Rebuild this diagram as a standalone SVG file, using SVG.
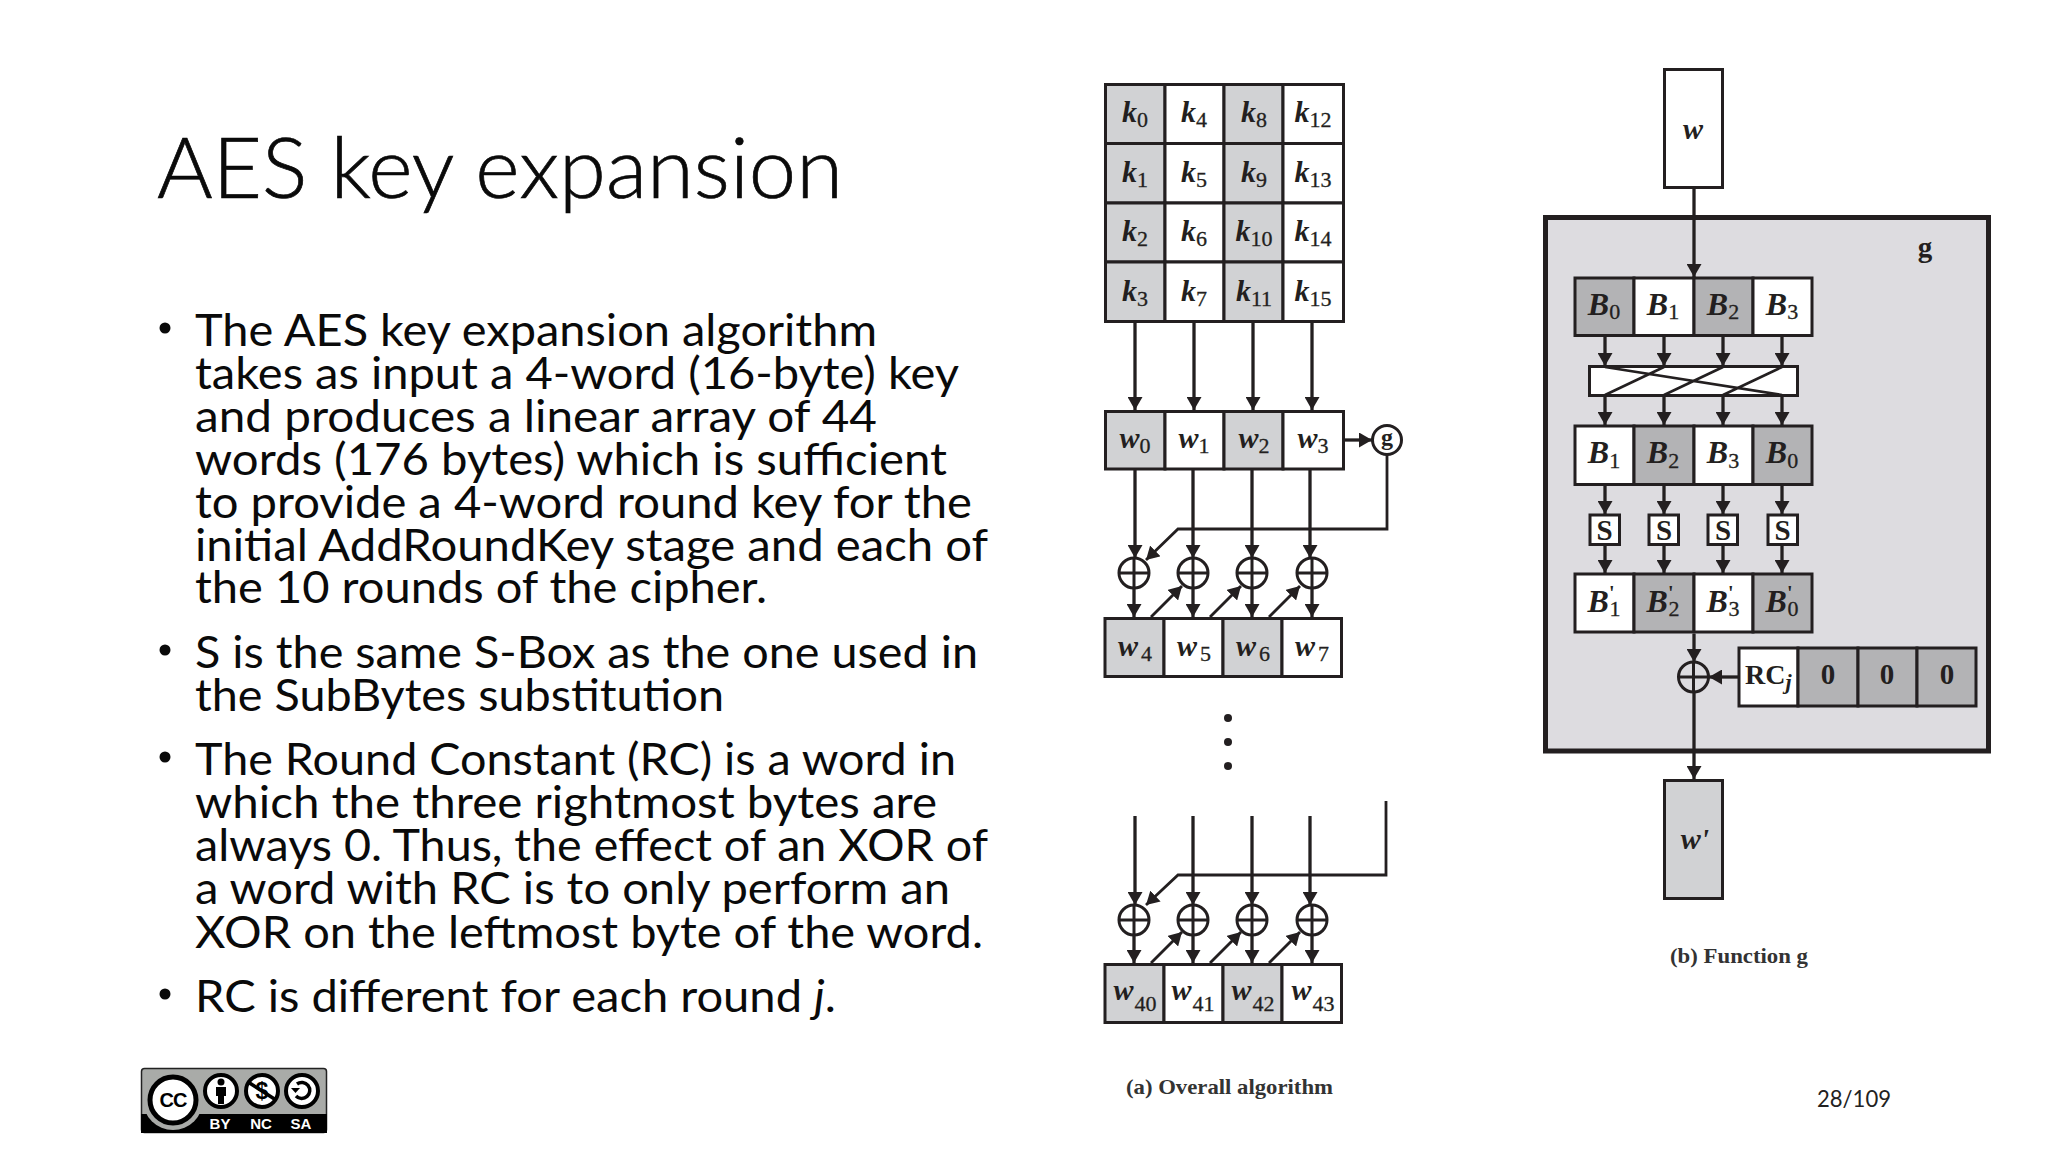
<svg xmlns="http://www.w3.org/2000/svg" width="2048" height="1152" viewBox="0 0 2048 1152">
<style>
.title{font-family:Lato,"Open Sans",sans-serif;font-weight:300;font-size:84px;fill:#0a0a0a;stroke:#0a0a0a;stroke-width:.7}
.body{font-family:Lato,"Open Sans",sans-serif;font-size:44px;fill:#0a0a0a}
.num{font-family:Lato,"Open Sans",sans-serif;font-size:24px;fill:#222}
.box{stroke:#231f20;stroke-width:3;fill:#fff}
.g1{fill:#d1d2d4}
.g2{fill:#b3b3b5}
.lab{font-family:"Liberation Serif",serif;font-weight:bold;fill:#231f20;text-anchor:middle}
.v{font-style:italic;font-size:30px}
.vb{font-style:italic;font-size:32px}
.s{font-style:normal;font-size:22px;font-weight:normal;stroke:#231f20;stroke-width:.3}
.pr{font-style:normal;font-size:20px}
.cap{font-family:"Liberation Serif",serif;font-weight:bold;font-size:22px;fill:#333}
.xor{fill:none;stroke:#231f20;stroke-width:3}
.con{fill:none;stroke:#231f20;stroke-width:3.2}
.thin{fill:none;stroke:#231f20;stroke-width:2.6}
.arr{fill:none;stroke:#231f20;stroke-width:3.3;marker-end:url(#ah)}
.arrt{fill:none;stroke:#231f20;stroke-width:2.8;marker-end:url(#ah)}
.ccw{font-family:"Liberation Sans",sans-serif;font-weight:bold;fill:#fff;font-size:15px;text-anchor:middle}
</style>
<defs>
<marker id="ah" markerUnits="userSpaceOnUse" markerWidth="13" markerHeight="15" refX="13" refY="7.5" orient="auto"><path d="M0,0L13,7.500L0,15z" fill="#231f20"/></marker>
</defs>
<rect width="2048" height="1152" fill="#fff"/>

<text class="title" x="157" y="198" textLength="686" lengthAdjust="spacingAndGlyphs">AES key expansion</text>

<g id="bullets">
<circle cx="165" cy="328" r="5.5" fill="#0a0a0a"/>
<circle cx="165" cy="650" r="5.5" fill="#0a0a0a"/>
<circle cx="165" cy="757" r="5.5" fill="#0a0a0a"/>
<circle cx="165" cy="994" r="5.5" fill="#0a0a0a"/>
</g>
<g id="body">
<text class="body" x="195" y="346" textLength="682" lengthAdjust="spacingAndGlyphs">The AES key expansion algorithm</text>
<text class="body" x="195" y="389" textLength="764" lengthAdjust="spacingAndGlyphs">takes as input a 4-word (16-byte) key</text>
<text class="body" x="195" y="432" textLength="682" lengthAdjust="spacingAndGlyphs">and produces a linear array of 44</text>
<text class="body" x="195" y="475" textLength="752" lengthAdjust="spacingAndGlyphs">words (176 bytes) which is sufficient</text>
<text class="body" x="195" y="518" textLength="777" lengthAdjust="spacingAndGlyphs">to provide a 4-word round key for the</text>
<text class="body" x="195" y="561" textLength="793" lengthAdjust="spacingAndGlyphs">initial AddRoundKey stage and each of</text>
<text class="body" x="195" y="603" textLength="572" lengthAdjust="spacingAndGlyphs">the 10 rounds of the cipher.</text>
<text class="body" x="195" y="668" textLength="783" lengthAdjust="spacingAndGlyphs">S is the same S-Box as the one used in</text>
<text class="body" x="195" y="711" textLength="529" lengthAdjust="spacingAndGlyphs">the SubBytes substitution</text>
<text class="body" x="195" y="775" textLength="761" lengthAdjust="spacingAndGlyphs">The Round Constant (RC) is a word in</text>
<text class="body" x="195" y="818" textLength="742" lengthAdjust="spacingAndGlyphs">which the three rightmost bytes are</text>
<text class="body" x="195" y="861" textLength="793" lengthAdjust="spacingAndGlyphs">always 0. Thus, the effect of an XOR of</text>
<text class="body" x="195" y="904" textLength="755" lengthAdjust="spacingAndGlyphs">a word with RC is to only perform an</text>
<text class="body" x="195" y="948" textLength="788" lengthAdjust="spacingAndGlyphs">XOR on the leftmost byte of the word.</text>
<text class="body" x="195" y="1012" textLength="641" lengthAdjust="spacingAndGlyphs">RC is different for each round <tspan font-style="italic">j</tspan>.</text>
</g>

<g id="page-number"><text class="num" x="1817" y="1107" textLength="74" lengthAdjust="spacingAndGlyphs">28/109</text></g>

<g id="cc-logo">
<rect x="141.5" y="1068.5" width="185" height="64" rx="3" fill="#a9aba8" stroke="#222" stroke-width="1.5"/>
<rect x="141" y="1114" width="186" height="19" fill="#000"/>
<circle cx="173" cy="1100" r="30" fill="#a9aba8"/>
<circle cx="173" cy="1100" r="23" fill="#fff" stroke="#000" stroke-width="5"/>
<text x="173" y="1107" font-family="Liberation Sans,sans-serif" font-weight="bold" font-size="20" text-anchor="middle" letter-spacing="-1" fill="#000">CC</text>
<circle cx="221" cy="1091" r="16" fill="#fff" stroke="#000" stroke-width="4"/>
<circle cx="221" cy="1082" r="3.5" fill="#000"/>
<path d="M216,1087h10v9h-2v8h-6v-8h-2z" fill="#000"/>
<circle cx="262" cy="1091" r="16" fill="#fff" stroke="#000" stroke-width="4"/>
<text x="262" y="1099" font-family="Liberation Sans,sans-serif" font-weight="bold" font-size="23" text-anchor="middle" fill="#000">$</text>
<path d="M248,1082L276,1100" stroke="#000" stroke-width="3.5"/>
<circle cx="302" cy="1091" r="16" fill="#fff" stroke="#000" stroke-width="4"/>
<path d="M297,1084A8,8 0 1 1 296,1096" fill="none" stroke="#000" stroke-width="3.5"/>
<path d="M291,1088h9l-4.500,5z" fill="#000"/>
<text class="ccw" x="220" y="1129">BY</text><text class="ccw" x="261" y="1129">NC</text><text class="ccw" x="301" y="1129">SA</text>
</g>

<g id="k0"><rect class="box g1" x="1105.500" y="84.500" width="59.500" height="59"/><text class="lab v" x="1135" y="122">k<tspan class="s" dy="5">0</tspan></text></g>
<g id="k4"><rect class="box" x="1165" y="84.500" width="59" height="59"/><text class="lab v" x="1194" y="122">k<tspan class="s" dy="5">4</tspan></text></g>
<g id="k8"><rect class="box g1" x="1224" y="84.500" width="59" height="59"/><text class="lab v" x="1254" y="122">k<tspan class="s" dy="5">8</tspan></text></g>
<g id="k12"><rect class="box" x="1283" y="84.500" width="60.500" height="59"/><text class="lab v" x="1313" y="122">k<tspan class="s" dy="5">12</tspan></text></g>
<g id="k1"><rect class="box g1" x="1105.500" y="143.500" width="59.500" height="59.500"/><text class="lab v" x="1135" y="182">k<tspan class="s" dy="5">1</tspan></text></g>
<g id="k5"><rect class="box" x="1165" y="143.500" width="59" height="59.500"/><text class="lab v" x="1194" y="182">k<tspan class="s" dy="5">5</tspan></text></g>
<g id="k9"><rect class="box g1" x="1224" y="143.500" width="59" height="59.500"/><text class="lab v" x="1254" y="182">k<tspan class="s" dy="5">9</tspan></text></g>
<g id="k13"><rect class="box" x="1283" y="143.500" width="60.500" height="59.500"/><text class="lab v" x="1313" y="182">k<tspan class="s" dy="5">13</tspan></text></g>
<g id="k2"><rect class="box g1" x="1105.500" y="203" width="59.500" height="59"/><text class="lab v" x="1135" y="241">k<tspan class="s" dy="5">2</tspan></text></g>
<g id="k6"><rect class="box" x="1165" y="203" width="59" height="59"/><text class="lab v" x="1194" y="241">k<tspan class="s" dy="5">6</tspan></text></g>
<g id="k10"><rect class="box g1" x="1224" y="203" width="59" height="59"/><text class="lab v" x="1254" y="241">k<tspan class="s" dy="5">10</tspan></text></g>
<g id="k14"><rect class="box" x="1283" y="203" width="60.500" height="59"/><text class="lab v" x="1313" y="241">k<tspan class="s" dy="5">14</tspan></text></g>
<g id="k3"><rect class="box g1" x="1105.500" y="262" width="59.500" height="59.500"/><text class="lab v" x="1135" y="301">k<tspan class="s" dy="5">3</tspan></text></g>
<g id="k7"><rect class="box" x="1165" y="262" width="59" height="59.500"/><text class="lab v" x="1194" y="301">k<tspan class="s" dy="5">7</tspan></text></g>
<g id="k11"><rect class="box g1" x="1224" y="262" width="59" height="59.500"/><text class="lab v" x="1254" y="301">k<tspan class="s" dy="5">11</tspan></text></g>
<g id="k15"><rect class="box" x="1283" y="262" width="60.500" height="59.500"/><text class="lab v" x="1313" y="301">k<tspan class="s" dy="5">15</tspan></text></g>

<g id="w0"><rect class="box g1" x="1105.500" y="411.500" width="59.500" height="57.500"/><text class="lab v" x="1135" y="448">w<tspan class="s" dy="5">0</tspan></text></g>
<g id="w1"><rect class="box" x="1165" y="411.500" width="59" height="57.500"/><text class="lab v" x="1194" y="448">w<tspan class="s" dy="5">1</tspan></text></g>
<g id="w2"><rect class="box g1" x="1224" y="411.500" width="59" height="57.500"/><text class="lab v" x="1254" y="448">w<tspan class="s" dy="5">2</tspan></text></g>
<g id="w3"><rect class="box" x="1283" y="411.500" width="60.500" height="57.500"/><text class="lab v" x="1313" y="448">w<tspan class="s" dy="5">3</tspan></text></g>
<g id="g-small"><circle cx="1387" cy="440" r="14.500" fill="#fff" stroke="#231f20" stroke-width="3"/><text class="lab" font-size="24" x="1387" y="445">g</text></g>

<g id="xor0"><circle class="xor" cx="1134" cy="573" r="15"/><path class="xor" d="M1119,573h30M1134,558v30"/></g>
<g id="xor1"><circle class="xor" cx="1193" cy="573" r="15"/><path class="xor" d="M1178,573h30M1193,558v30"/></g>
<g id="xor2"><circle class="xor" cx="1252" cy="573" r="15"/><path class="xor" d="M1237,573h30M1252,558v30"/></g>
<g id="xor3"><circle class="xor" cx="1312" cy="573" r="15"/><path class="xor" d="M1297,573h30M1312,558v30"/></g>

<g id="w4"><rect class="box g1" x="1105" y="618.500" width="59" height="58"/><text class="lab v" x="1135" y="656">w<tspan class="s" dx="3" dy="5">4</tspan></text></g>
<g id="w5"><rect class="box" x="1164" y="618.500" width="59" height="58"/><text class="lab v" x="1194" y="656">w<tspan class="s" dx="3" dy="5">5</tspan></text></g>
<g id="w6"><rect class="box g1" x="1223" y="618.500" width="59" height="58"/><text class="lab v" x="1253" y="656">w<tspan class="s" dx="3" dy="5">6</tspan></text></g>
<g id="w7"><rect class="box" x="1282" y="618.500" width="59.500" height="58"/><text class="lab v" x="1312" y="656">w<tspan class="s" dx="3" dy="5">7</tspan></text></g>

<g id="dots"><circle cx="1228" cy="718" r="4" fill="#231f20"/><circle cx="1228" cy="742" r="4" fill="#231f20"/><circle cx="1228" cy="766" r="4" fill="#231f20"/></g>

<g id="xor4"><circle class="xor" cx="1134" cy="920" r="15"/><path class="xor" d="M1119,920h30M1134,905v30"/></g>
<g id="xor5"><circle class="xor" cx="1193" cy="920" r="15"/><path class="xor" d="M1178,920h30M1193,905v30"/></g>
<g id="xor6"><circle class="xor" cx="1252" cy="920" r="15"/><path class="xor" d="M1237,920h30M1252,905v30"/></g>
<g id="xor7"><circle class="xor" cx="1312" cy="920" r="15"/><path class="xor" d="M1297,920h30M1312,905v30"/></g>

<g id="w40"><rect class="box g1" x="1105" y="964.500" width="59" height="58"/><text class="lab v" x="1135" y="1000">w<tspan class="s" dx="1" dy="11">40</tspan></text></g>
<g id="w41"><rect class="box" x="1164" y="964.500" width="59" height="58"/><text class="lab v" x="1193" y="1000">w<tspan class="s" dx="1" dy="11">41</tspan></text></g>
<g id="w42"><rect class="box g1" x="1223" y="964.500" width="59" height="58"/><text class="lab v" x="1253" y="1000">w<tspan class="s" dx="1" dy="11">42</tspan></text></g>
<g id="w43"><rect class="box" x="1282" y="964.500" width="59.500" height="58"/><text class="lab v" x="1313" y="1000">w<tspan class="s" dx="1" dy="11">43</tspan></text></g>

<g id="caption-a"><text class="cap" x="1126" y="1094" textLength="207" lengthAdjust="spacingAndGlyphs">(a) Overall algorithm</text></g>

<g id="w-in"><rect class="box" x="1664.500" y="69.500" width="58" height="118"/><text class="lab v" x="1693" y="139">w</text></g>

<g id="g-box"><rect x="1545.500" y="217.500" width="443" height="533.500" fill="#dddce0" stroke="#231f20" stroke-width="5"/><text class="lab" font-size="29" x="1925" y="257">g</text></g>

<g id="B0a"><rect class="box g2" x="1575" y="278" width="59" height="57.500"/><text class="lab vb" x="1604" y="315">B<tspan class="s" dy="4">0</tspan></text></g>
<g id="B1a"><rect class="box" x="1634" y="278" width="60" height="57.500"/><text class="lab vb" x="1663" y="315">B<tspan class="s" dy="4">1</tspan></text></g>
<g id="B2a"><rect class="box g2" x="1694" y="278" width="59" height="57.500"/><text class="lab vb" x="1723" y="315">B<tspan class="s" dy="4">2</tspan></text></g>
<g id="B3a"><rect class="box" x="1753" y="278" width="59" height="57.500"/><text class="lab vb" x="1782" y="315">B<tspan class="s" dy="4">3</tspan></text></g>

<g id="permute"><rect class="box" x="1589.500" y="366.500" width="208" height="29"/><path class="thin" d="M1605,367L1782,395M1605,395L1664,367M1664,395L1723,367M1723,395L1782,367"/></g>

<g id="B1b"><rect class="box" x="1575" y="426" width="59" height="58.500"/><text class="lab vb" x="1604" y="463">B<tspan class="s" dy="5">1</tspan></text></g>
<g id="B2b"><rect class="box g2" x="1634" y="426" width="60" height="58.500"/><text class="lab vb" x="1663" y="463">B<tspan class="s" dy="5">2</tspan></text></g>
<g id="B3b"><rect class="box" x="1694" y="426" width="59" height="58.500"/><text class="lab vb" x="1723" y="463">B<tspan class="s" dy="5">3</tspan></text></g>
<g id="B0b"><rect class="box g2" x="1753" y="426" width="59" height="58.500"/><text class="lab vb" x="1782" y="463">B<tspan class="s" dy="5">0</tspan></text></g>

<g id="S0"><rect class="box" x="1590" y="515" width="29.500" height="29.500"/><text class="lab" font-size="29" x="1604.500" y="540">S</text></g>
<g id="S1"><rect class="box" x="1649" y="515" width="29.500" height="29.500"/><text class="lab" font-size="29" x="1664" y="540">S</text></g>
<g id="S2"><rect class="box" x="1708" y="515" width="29.500" height="29.500"/><text class="lab" font-size="29" x="1723" y="540">S</text></g>
<g id="S3"><rect class="box" x="1768" y="515" width="29.500" height="29.500"/><text class="lab" font-size="29" x="1782.500" y="540">S</text></g>

<g id="B1c"><rect class="box" x="1575" y="574" width="59" height="58"/><text class="lab vb" x="1604" y="612">B<tspan class="pr" dy="-12">'</tspan><tspan class="s" dx="-5" dy="16">1</tspan></text></g>
<g id="B2c"><rect class="box g2" x="1634" y="574" width="60" height="58"/><text class="lab vb" x="1663" y="612">B<tspan class="pr" dy="-12">'</tspan><tspan class="s" dx="-5" dy="16">2</tspan></text></g>
<g id="B3c"><rect class="box" x="1694" y="574" width="59" height="58"/><text class="lab vb" x="1723" y="612">B<tspan class="pr" dy="-12">'</tspan><tspan class="s" dx="-5" dy="16">3</tspan></text></g>
<g id="B0c"><rect class="box g2" x="1753" y="574" width="59" height="58"/><text class="lab vb" x="1782" y="612">B<tspan class="pr" dy="-12">'</tspan><tspan class="s" dx="-5" dy="16">0</tspan></text></g>

<g id="xor-g"><circle class="xor" cx="1693.500" cy="677" r="15" stroke-width="2.500"/><path class="xor" d="M1678.500,677h30M1693.500,662v30"/></g>

<g id="RCj"><rect class="box" x="1739" y="648" width="59" height="58"/><text font-family="Liberation Serif,serif" font-weight="bold" font-size="28" fill="#231f20" x="1745" y="684">RC<tspan font-style="italic" font-size="22" dy="5">j</tspan></text></g>
<g id="zero1"><rect class="box g2" x="1798" y="648" width="60" height="58"/><text class="lab" font-size="29" x="1828" y="684">0</text></g>
<g id="zero2"><rect class="box g2" x="1858" y="648" width="59" height="58"/><text class="lab" font-size="29" x="1887" y="684">0</text></g>
<g id="zero3"><rect class="box g2" x="1917" y="648" width="59" height="58"/><text class="lab" font-size="29" x="1947" y="684">0</text></g>

<g id="w-out"><rect class="box g1" x="1664.500" y="780.500" width="58" height="118"/><text class="lab v" x="1695" y="849">w'</text></g>

<g id="caption-b"><text class="cap" x="1670" y="963" textLength="138" lengthAdjust="spacingAndGlyphs">(b) Function g</text></g>

<g id="connectors">
<path class="arr" d="M1135,323V410"/><path class="arr" d="M1194,323V410"/><path class="arr" d="M1253,323V410"/><path class="arr" d="M1312,323V410"/>
<path class="arr" d="M1345,440H1372"/>
<path class="arr" d="M1135,470V558"/><path class="arr" d="M1193,470V558"/><path class="arr" d="M1252,470V558"/><path class="arr" d="M1310,470V558"/>
<path class="arrt" d="M1387,455V529H1178L1146,560"/>
<path class="arr" d="M1134,588V617"/><path class="arr" d="M1193,588V617"/><path class="arr" d="M1252,588V617"/><path class="arr" d="M1312,588V617"/>
<path class="arrt" d="M1151,617L1182,586"/><path class="arrt" d="M1210,617L1241,586"/><path class="arrt" d="M1269,617L1300,586"/>
<path class="arr" d="M1135,816V905"/><path class="arr" d="M1193,816V905"/><path class="arr" d="M1252,816V905"/><path class="arr" d="M1310,816V905"/>
<path class="arrt" d="M1386,801V875H1178L1146,905"/>
<path class="arr" d="M1134,935V963"/><path class="arr" d="M1193,935V963"/><path class="arr" d="M1252,935V963"/><path class="arr" d="M1312,935V963"/>
<path class="arrt" d="M1151,963L1182,932"/><path class="arrt" d="M1210,963L1241,932"/><path class="arrt" d="M1269,963L1300,932"/>
<path class="arr" d="M1694,189V277"/>
<path class="arr" d="M1605,337V366"/><path class="arr" d="M1664,337V366"/><path class="arr" d="M1723,337V366"/><path class="arr" d="M1782,337V366"/>
<path class="arr" d="M1605,397V425"/><path class="arr" d="M1664,397V425"/><path class="arr" d="M1723,397V425"/><path class="arr" d="M1782,397V425"/>
<path class="arr" d="M1605,486V514"/><path class="arr" d="M1664,486V514"/><path class="arr" d="M1723,486V514"/><path class="arr" d="M1782,486V514"/>
<path class="arr" d="M1605,545V573"/><path class="arr" d="M1664,545V573"/><path class="arr" d="M1723,545V573"/><path class="arr" d="M1782,545V573"/>
<path class="arr" d="M1694,634V662"/>
<path class="arr" d="M1738,677H1709"/>
<path class="arr" d="M1694,692V779"/>
</g>
</svg>
